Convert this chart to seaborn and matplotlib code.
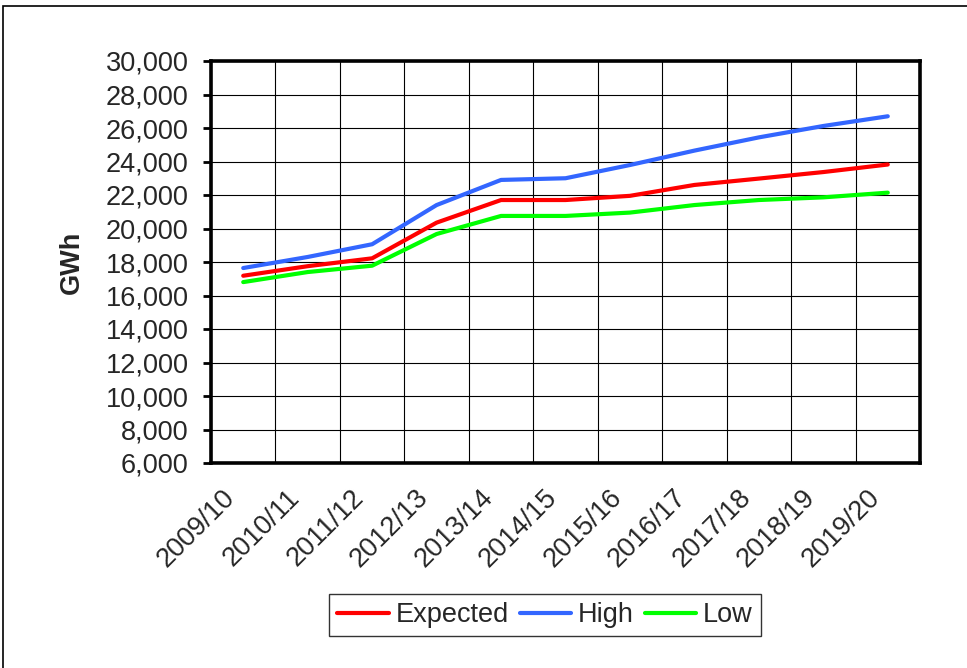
import pandas as pd
import matplotlib.pyplot as plt
import matplotlib.transforms as mtransforms
from matplotlib.patches import Rectangle
import seaborn as sns

years = ['2009/10', '2010/11', '2011/12', '2012/13', '2013/14', '2014/15',
         '2015/16', '2016/17', '2017/18', '2018/19', '2019/20']
expected = [17180, 17750, 18220, 20350, 21700, 21700, 21950, 22600, 22980, 23370, 23820]
high = [17640, 18300, 19060, 21400, 22900, 23000, 23790, 24650, 25440, 26120, 26700]
low = [16800, 17400, 17780, 19670, 20750, 20750, 20950, 21400, 21700, 21860, 22140]

series_names = ['Expected', 'High', 'Low']
colors = ['#FF0000', '#3366FF', '#00FF00']
y_ticks = list(range(6000, 30001, 2000))

FS = 19.5


def build_frame():
    rows = []
    for name, vals in zip(series_names, [expected, high, low]):
        for i, v in enumerate(vals):
            rows.append({'pos': i, 'year': years[i], 'GWh': v, 'series': name})
    return pd.DataFrame(rows)


def main():
    df = build_frame()

    sns.set_style('white')
    plt.rcParams['font.family'] = ['Liberation Sans', 'DejaVu Sans']

    fig = plt.figure(figsize=(9.67, 6.68), dpi=100)
    ax = fig.add_axes([211 / 967, 1 - 463 / 668, (920 - 211) / 967, (463 - 61) / 668])

    sns.lineplot(data=df, x='pos', y='GWh', hue='series', hue_order=series_names,
                 palette=colors, linewidth=3.0, sort=False, ax=ax, legend=True)

    # axes ranges, grid at category boundaries
    ax.set_xlim(-0.5, len(years) - 0.5)
    ax.set_ylim(6000, 30000)
    ax.set_yticks(y_ticks)
    ax.set_yticklabels([f'{t:,}' for t in y_ticks], fontsize=FS)
    ax.set_xticks(range(len(years)))
    ax.set_xticklabels(years, fontsize=FS, rotation=45, ha='right', va='center',
                       rotation_mode='anchor')
    ax.set_xticks([i - 0.5 for i in range(len(years) + 1)], minor=True)
    ax.tick_params(axis='x', which='major', length=0, pad=22)
    ax.tick_params(axis='x', which='minor', length=5, width=1, color='black', direction='out')
    ax.tick_params(axis='y', which='major', length=6, width=2, color='black',
                   direction='out', pad=10, left=True)
    ax.grid(False)
    ax.grid(True, which='minor', axis='x', color='black', linewidth=0.8)
    ax.grid(True, which='major', axis='y', color='black', linewidth=0.8)
    ax.set_axisbelow(True)
    for sp in ax.spines.values():
        sp.set_color('black')
        sp.set_linewidth(2.6)
        sp.set_visible(True)

    # shift rotated labels to sit like the reference
    offset = mtransforms.ScaledTranslation(-0.12, 0, fig.dpi_scale_trans)
    for lab in ax.get_xticklabels():
        lab.set_transform(lab.get_transform() + offset)

    ax.set_xlabel('')
    ax.set_ylabel('')
    fig.text(72 / 967, 1 - 262 / 668, 'GWh', rotation=90, ha='center', va='center',
             fontsize=FS, fontweight='bold')

    handles, labels = ax.get_legend_handles_labels()
    ax.get_legend().remove()
    leg = fig.legend(handles, labels, loc='center', bbox_to_anchor=(545 / 967, 1 - 615 / 668),
                     ncol=3, fontsize=FS, frameon=True, fancybox=False, handlelength=1.9,
                     handletextpad=0.25, columnspacing=0.4, borderpad=0.3, borderaxespad=0)
    leg.get_frame().set_edgecolor('black')
    leg.get_frame().set_linewidth(1.0)
    for line in leg.get_lines():
        line.set_linewidth(3.0)

    # outer chart border
    fig.patches.append(Rectangle((3 / 967, -0.1), 1.2, 1.1 - 6 / 668, transform=fig.transFigure,
                                 fill=False, edgecolor='black', linewidth=1.2))

    fig.savefig('out.png', dpi=100)


if __name__ == '__main__':
    main()
